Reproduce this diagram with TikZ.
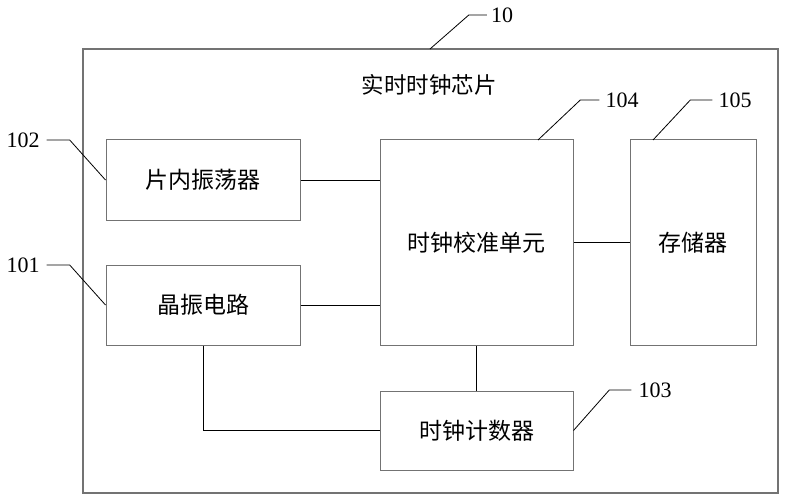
\documentclass[tikz,border=0pt]{standalone}
\usepackage{fontspec}
\setmainfont{Liberation Serif}
\newfontfamily\cjk{Noto Sans CJK SC}
\begin{document}
\begin{tikzpicture}[x=1pt,y=-1pt,
  blk/.style={draw=black!55,line width=1pt,fill=white,inner sep=0pt,font=\cjk\fontsize{23}{26}\selectfont},
  wire/.style={draw=black,line width=0.9pt},
  lead/.style={draw=black,line width=0.8pt},
  num/.style={font=\fontsize{22}{24}\selectfont,inner sep=0pt}]
\useasboundingbox (0,0) rectangle (785,500);
\node[draw=black!55,line width=1.1pt,minimum width=695pt,minimum height=444pt,inner sep=0pt] (outer) at (430.5,271) {};
\node[font=\cjk\fontsize{22.5}{26}\selectfont] (title) at (429,85) {实时时钟芯片};
\node[blk,minimum width=194pt,minimum height=80pt] (osc) at (203,180) {片内振荡器};
\node[blk,minimum width=194pt,minimum height=80pt] (xtal) at (203,305) {晶振电路};
\node[blk,minimum width=193pt,minimum height=205pt] (cal) at (476.5,242.5) {时钟校准单元};
\node[blk,minimum width=126pt,minimum height=205pt] (mem) at (693,242.5) {存储器};
\node[blk,minimum width=193pt,minimum height=79pt] (cnt) at (476.5,430.5) {时钟计数器};
% connectors
\draw[wire] (osc.east) -- (osc.east -| cal.west);
\draw[wire] (xtal.east) -- (xtal.east -| cal.west);
\draw[wire] (cal.east |- mem.west) -- (mem.west);
\draw[wire] (cal.south -| cnt.north) -- (cnt.north);
\draw[wire] (xtal.south) |- (cnt.west);
% labels
\node[num] (n10) at (502,15) {10};
\node[num] (n102) at (23,140) {102};
\node[num] (n101) at (23,265) {101};
\node[num] (n104) at (622,100) {104};
\node[num] (n105) at (735,100) {105};
\node[num] (n103) at (655,390) {103};
\coordinate (a10) at (430,49);
\draw[lead] (n10.west) ++(-4,0) -- ++(-18,0) -- (a10);
\draw[lead] (n102.east) ++(7,0) -- ++(23,0) -- (osc.west);
\draw[lead] (n101.east) ++(7,0) -- ++(23,0) -- (xtal.west);
\coordinate (a104) at (538,140);
\coordinate (a105) at (653,140);
\draw[lead] (n104.west) ++(-6,0) -- ++(-19,0) -- (a104);
\draw[lead] (n105.west) ++(-6,0) -- ++(-22,0) -- (a105);
\draw[lead] (n103.west) ++(-7,0) -- ++(-22,0) -- (cnt.east);
\end{tikzpicture}
\end{document}
